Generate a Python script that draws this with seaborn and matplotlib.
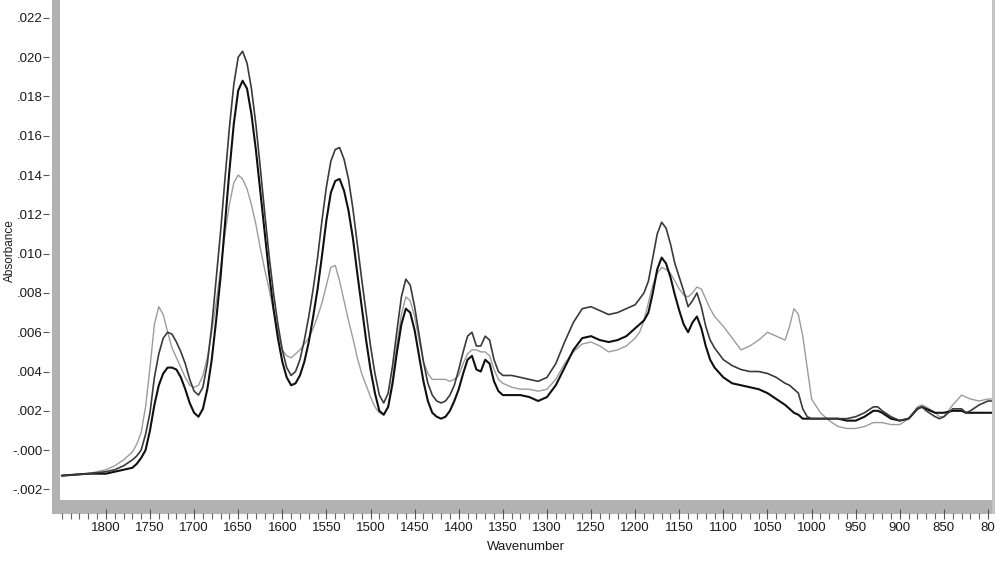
import matplotlib
matplotlib.use("Agg")
import matplotlib.pyplot as plt
from matplotlib.patches import Rectangle
from matplotlib.ticker import MultipleLocator, FixedLocator, FixedFormatter
import seaborn as sns
import pandas as pd

wavenumber = [
    1850, 1820, 1800, 1790, 1780, 1770, 1765, 1760, 1755, 1750,
    1745, 1740, 1735, 1730, 1725, 1720, 1715, 1710, 1705, 1700,
    1695, 1690, 1685, 1680, 1675, 1670, 1665, 1660, 1655, 1650,
    1645, 1640, 1635, 1630, 1625, 1620, 1615, 1610, 1605, 1600,
    1595, 1590, 1585, 1580, 1575, 1570, 1565, 1560, 1555, 1550,
    1545, 1540, 1535, 1530, 1525, 1520, 1515, 1510, 1505, 1500,
    1495, 1490, 1485, 1480, 1475, 1470, 1465, 1460, 1455, 1450,
    1445, 1440, 1435, 1430, 1425, 1420, 1415, 1410, 1405, 1400,
    1395, 1390, 1385, 1380, 1375, 1370, 1365, 1360, 1355, 1350,
    1340, 1330, 1320, 1310, 1300, 1290, 1280, 1270, 1260, 1250,
    1240, 1230, 1220, 1210, 1200, 1195, 1190, 1185, 1180, 1175,
    1170, 1165, 1160, 1155, 1150, 1145, 1140, 1135, 1130, 1125,
    1120, 1115, 1110, 1100, 1090, 1080, 1070, 1060, 1050, 1040,
    1030, 1025, 1020, 1015, 1010, 1005, 1000, 990, 980, 970,
    960, 950, 940, 930, 925, 920, 910, 900, 890, 880,
    875, 870, 860, 855, 850, 840, 830, 825, 820, 810,
    800, 796,
]

spectrum_high = [
    -0.0013, -0.0012, -0.0011, -0.0010, -0.0008, -0.0005, -0.0003, 0.0000, 0.0008, 0.0019,
    0.0037, 0.0049, 0.0057, 0.0060, 0.0059, 0.0055, 0.0050, 0.0044, 0.0036, 0.0030,
    0.0028, 0.0032, 0.0044, 0.0063, 0.0087, 0.0111, 0.0138, 0.0164, 0.0186, 0.0200,
    0.0203, 0.0197, 0.0184, 0.0166, 0.0144, 0.0121, 0.0099, 0.0080, 0.0064, 0.0051,
    0.0042, 0.0038, 0.0040, 0.0046, 0.0056, 0.0068, 0.0082, 0.0098, 0.0117, 0.0134,
    0.0147, 0.0153, 0.0154, 0.0148, 0.0138, 0.0123, 0.0105, 0.0087, 0.0070, 0.0053,
    0.0039, 0.0028, 0.0024, 0.0029, 0.0043, 0.0061, 0.0078, 0.0087, 0.0084, 0.0073,
    0.0059, 0.0045, 0.0034, 0.0028, 0.0025, 0.0024, 0.0025, 0.0028, 0.0033, 0.0041,
    0.0050, 0.0058, 0.0060, 0.0053, 0.0053, 0.0058, 0.0056, 0.0046, 0.0040, 0.0038,
    0.0038, 0.0037, 0.0036, 0.0035, 0.0037, 0.0044, 0.0055, 0.0065, 0.0072, 0.0073,
    0.0071, 0.0069, 0.0070, 0.0072, 0.0074, 0.0077, 0.0080, 0.0086, 0.0098, 0.0110,
    0.0116, 0.0113, 0.0105, 0.0095, 0.0088, 0.0081, 0.0073, 0.0076, 0.0080, 0.0073,
    0.0063, 0.0056, 0.0052, 0.0046, 0.0043, 0.0041, 0.0040, 0.0040, 0.0039, 0.0037,
    0.0034, 0.0033, 0.0031, 0.0029, 0.0021, 0.0017, 0.0016, 0.0016, 0.0016, 0.0016,
    0.0016, 0.0017, 0.0019, 0.0022, 0.0022, 0.0020, 0.0017, 0.0015, 0.0016, 0.0021,
    0.0022, 0.0020, 0.0017, 0.0016, 0.0017, 0.0021, 0.0021, 0.0019, 0.0020, 0.0023,
    0.0025, 0.0025,
]

spectrum_low = [
    -0.0013, -0.0012, -0.0012, -0.0011, -0.0010, -0.0009, -0.0007, -0.0004, 0.0000, 0.0010,
    0.0023, 0.0033, 0.0039, 0.0042, 0.0042, 0.0041, 0.0037, 0.0031, 0.0024, 0.0019,
    0.0017, 0.0021, 0.0031, 0.0046, 0.0066, 0.0088, 0.0115, 0.0142, 0.0166, 0.0183,
    0.0188, 0.0184, 0.0171, 0.0153, 0.0132, 0.0111, 0.0090, 0.0072, 0.0057, 0.0045,
    0.0037, 0.0033, 0.0034, 0.0038, 0.0045, 0.0055, 0.0068, 0.0082, 0.0099, 0.0117,
    0.0131, 0.0137, 0.0138, 0.0132, 0.0122, 0.0108, 0.0090, 0.0073, 0.0056, 0.0041,
    0.0029, 0.0020, 0.0018, 0.0022, 0.0034, 0.0050, 0.0064, 0.0072, 0.0070, 0.0061,
    0.0048, 0.0035, 0.0025, 0.0019, 0.0017, 0.0016, 0.0017, 0.0020, 0.0025, 0.0031,
    0.0039, 0.0046, 0.0048, 0.0041, 0.0040, 0.0046, 0.0044, 0.0035, 0.0030, 0.0028,
    0.0028, 0.0028, 0.0027, 0.0025, 0.0027, 0.0033, 0.0042, 0.0051, 0.0057, 0.0058,
    0.0056, 0.0055, 0.0056, 0.0058, 0.0062, 0.0064, 0.0066, 0.0070, 0.0080, 0.0092,
    0.0098, 0.0095, 0.0088, 0.0079, 0.0071, 0.0064, 0.0060, 0.0065, 0.0068, 0.0062,
    0.0053, 0.0046, 0.0042, 0.0037, 0.0034, 0.0033, 0.0032, 0.0031, 0.0029, 0.0026,
    0.0023, 0.0021, 0.0019, 0.0018, 0.0016, 0.0016, 0.0016, 0.0016, 0.0016, 0.0016,
    0.0015, 0.0015, 0.0017, 0.0020, 0.0020, 0.0019, 0.0016, 0.0015, 0.0016, 0.0021,
    0.0022, 0.0021, 0.0019, 0.0019, 0.0019, 0.0020, 0.0020, 0.0019, 0.0019, 0.0019,
    0.0019, 0.0019,
]

spectrum_gray = [
    -0.0013, -0.0012, -0.0010, -0.0008, -0.0005, -0.0001, 0.0003, 0.0009, 0.0022, 0.0042,
    0.0064, 0.0073, 0.0069, 0.0060, 0.0052, 0.0047, 0.0042, 0.0037, 0.0033, 0.0032,
    0.0033, 0.0038, 0.0047, 0.0060, 0.0075, 0.0092, 0.0110, 0.0125, 0.0136, 0.0140,
    0.0138, 0.0133, 0.0125, 0.0115, 0.0103, 0.0092, 0.0082, 0.0071, 0.0060, 0.0051,
    0.0048, 0.0047, 0.0049, 0.0051, 0.0054, 0.0057, 0.0062, 0.0068, 0.0075, 0.0084,
    0.0093, 0.0094, 0.0086, 0.0076, 0.0066, 0.0057, 0.0047, 0.0039, 0.0033, 0.0027,
    0.0022, 0.0019, 0.0018, 0.0022, 0.0036, 0.0054, 0.0069, 0.0078, 0.0076, 0.0068,
    0.0056, 0.0045, 0.0039, 0.0036, 0.0036, 0.0036, 0.0036, 0.0035, 0.0036, 0.0038,
    0.0044, 0.0049, 0.0051, 0.0051, 0.0050, 0.0050, 0.0048, 0.0041, 0.0036, 0.0034,
    0.0032, 0.0031, 0.0031, 0.0030, 0.0031, 0.0036, 0.0044, 0.0050, 0.0054, 0.0055,
    0.0053, 0.0050, 0.0051, 0.0053, 0.0057, 0.0060, 0.0066, 0.0075, 0.0084, 0.0090,
    0.0093, 0.0092, 0.0090, 0.0086, 0.0082, 0.0079, 0.0078, 0.0080, 0.0083, 0.0082,
    0.0077, 0.0072, 0.0068, 0.0063, 0.0057, 0.0051, 0.0053, 0.0056, 0.0060, 0.0058,
    0.0056, 0.0063, 0.0072, 0.0069, 0.0058, 0.0042, 0.0026, 0.0019, 0.0015, 0.0012,
    0.0011, 0.0011, 0.0012, 0.0014, 0.0014, 0.0014, 0.0013, 0.0013, 0.0016, 0.0022,
    0.0023, 0.0022, 0.0019, 0.0017, 0.0017, 0.0023, 0.0028, 0.0027, 0.0026, 0.0025,
    0.0026, 0.0026,
]

x_major_ticks = [1800, 1750, 1700, 1650, 1600, 1550, 1500, 1450, 1400, 1350,
                 1300, 1250, 1200, 1150, 1100, 1050, 1000, 950, 900, 850, 800]
x_tick_labels = ["1800", "1750", "1700", "1650", "1600", "1550", "1500", "1450",
                 "1400", "1350", "1300", "1250", "1200", "1150", "1100", "1050",
                 "1000", "950", "900", "850", "80"]
y_ticks = [-0.002, 0.000, 0.002, 0.004, 0.006, 0.008, 0.010, 0.012, 0.014,
           0.016, 0.018, 0.020, 0.022]
y_tick_labels = ["-.002", "-.000", ".002", ".004", ".006", ".008", ".010", ".012",
                 ".014", ".016", ".018", ".020", ".022"]

sns.set_theme(style="white")
plt.rcParams["font.family"] = ["Liberation Sans", "DejaVu Sans"]

W, H = 1000, 562
fig = plt.figure(figsize=(W / 100, H / 100), dpi=100)
L, R, B, T = 60, 992, 500, 1
ax = fig.add_axes([L / W, 1 - B / H, (R - L) / W, (B - T) / H])

df = pd.DataFrame({"wn": wavenumber, "hi": spectrum_high,
                   "lo": spectrum_low, "gr": spectrum_gray})
sns.lineplot(data=df, x="wn", y="gr", ax=ax, color="#9c9c9c", linewidth=1.0,
             sort=False, estimator=None)
sns.lineplot(data=df, x="wn", y="lo", ax=ax, color="#101010", linewidth=1.5,
             sort=False, estimator=None)
sns.lineplot(data=df, x="wn", y="hi", ax=ax, color="#3a3a3a", linewidth=1.2,
             sort=False, estimator=None)

ax.set_xlim(1852, 795.5)
ax.set_ylim(-0.00254, 0.02286)

for s in ax.spines.values():
    s.set_visible(False)
ax.spines["left"].set_position(("outward", 8))
ax.spines["bottom"].set_position(("outward", 14))

ax.xaxis.set_major_locator(FixedLocator(x_major_ticks))
ax.xaxis.set_major_formatter(FixedFormatter(x_tick_labels))
ax.xaxis.set_minor_locator(MultipleLocator(10))
ax.yaxis.set_major_locator(FixedLocator(y_ticks))
ax.yaxis.set_major_formatter(FixedFormatter(y_tick_labels))

ax.tick_params(axis="x", which="major", direction="in", length=7, width=0.8,
               color="#555555", pad=2, labelsize=9.5, bottom=True)
ax.tick_params(axis="x", which="minor", direction="in", length=4, width=0.8,
               color="#666666", bottom=True)
ax.tick_params(axis="y", which="major", direction="out", length=4, width=0.8,
               color="#555555", pad=0.5, labelsize=9.5, left=True)
for lab in ax.get_xticklabels() + ax.get_yticklabels():
    lab.set_color("#1a1a1a")

ax.set_xlabel("Wavenumber", fontsize=9.5, color="#1a1a1a")
ax.set_ylabel("Absorbance", fontsize=8.5, color="#1a1a1a")
ax.xaxis.set_label_coords(0.5, (B - 547) / (B - T))
ax.xaxis.label.set_va("center")
ax.yaxis.set_label_coords((10 - L) / (R - L), 0.5)
ax.yaxis.label.set_va("center")

strip = "#b2b2b2"
fig.add_artist(Rectangle((52 / W, 1 - 514 / H), 8 / W, 514 / H,
                         transform=fig.transFigure, color=strip, zorder=-1, lw=0))
fig.add_artist(Rectangle((52 / W, 1 - 514 / H), (995 - 52) / W, 14 / H,
                         transform=fig.transFigure, color=strip, zorder=-1, lw=0))
fig.add_artist(Rectangle((992 / W, 1 - 514 / H), 3 / W, 514 / H,
                         transform=fig.transFigure, color="#c4c4c4", zorder=-1, lw=0))

fig.savefig("out.png", dpi=100)
